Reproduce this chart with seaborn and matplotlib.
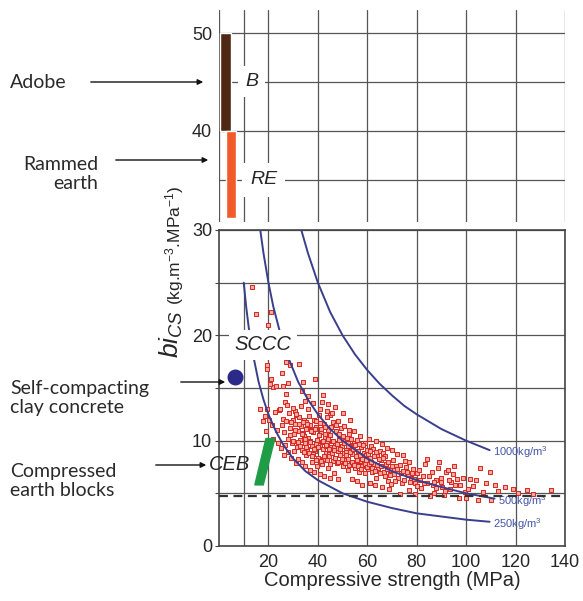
import matplotlib
matplotlib.use("Agg")
import matplotlib.pyplot as plt
import seaborn as sns
import pandas as pd

# measured points: compressive strength (MPa) vs binder intensity bi_CS
strength = [13.2, 15.0, 20.9, 19.7, 19.4, 19.3, 21.0, 21.8, 23.0, 20.6, 19.3, 16.6, 17.9, 19.0, 22.6,
            24.2, 24.7, 26.0, 25.3, 25.9, 27.9, 27.3, 28.7, 32.3, 34.0, 34.7, 27.3, 26.7, 39.0, 41.5,
            30.7, 31.0, 43.5, 44.8, 21.5, 23.5, 22.0, 18.5, 20.2,
            25.5, 26.5, 27.0, 27.8, 28.3, 28.9, 29.5, 29.8, 30.4, 30.9, 31.5, 31.8, 32.2, 32.7, 33.1,
            33.6, 34.0, 34.4, 34.9, 35.2, 25.0, 26.2, 28.0, 29.0, 30.2, 32.0, 33.5, 35.0, 27.5, 30.0,
            33.0, 36.0, 24.0, 26.8, 31.2, 34.6, 36.5, 37.0, 36.2, 37.5, 38.0, 38.5,
            39.0, 39.3, 39.8, 40.2, 40.5, 40.9, 41.3, 41.7, 42.0, 42.4, 42.8, 43.2, 43.6, 44.0, 44.3,
            44.7, 45.1, 45.5, 46.0, 46.3, 46.8, 47.2, 47.6, 48.0, 48.5, 48.9, 49.3, 49.8, 50.2, 50.6,
            51.0, 51.5, 52.0, 52.3, 52.8, 53.2, 53.6, 54.0, 54.5, 55.0, 55.4, 55.9, 56.3, 56.8, 57.2,
            57.6, 58.0, 58.5, 59.0, 59.5, 60.0, 60.4, 36.8, 38.6, 40.8, 42.6, 44.9, 46.5, 48.2, 37.8,
            39.6, 43.9, 45.8, 41.0, 48.0, 50.5, 52.5, 54.8, 57.0, 59.2, 61.5, 38.2, 42.0, 44.0, 47.0,
            36.0, 33.7, 50.0, 53.0,
            34.2, 35.6, 36.9, 38.1, 39.4, 40.6, 41.9, 43.1, 44.5, 45.7, 47.0, 48.3, 49.6, 51.2, 52.7,
            35.3, 37.3, 39.2, 41.1, 43.0, 44.8, 46.7, 48.6, 50.4, 52.2, 54.2, 56.1, 58.3,
            61.0, 61.8, 62.3, 62.8, 63.4, 64.0, 64.5, 65.0, 65.5, 66.2, 66.9, 67.1, 67.6, 68.3, 69.2,
            70.4, 71.0, 71.8, 72.5, 73.1, 73.1, 74.0, 75.2, 75.8, 76.5, 77.8, 78.5, 79.2, 79.5, 80.3,
            63.0, 65.8, 68.8, 70.0, 72.0, 74.5, 76.8, 60.8, 63.5, 66.0, 68.0, 58.0, 56.0, 54.0, 61.2,
            69.5, 77.0,
            81.0, 81.9, 82.5, 83.5, 84.3, 85.2, 86.0, 86.4, 87.7, 88.5, 89.7, 90.4, 91.3, 92.0, 92.5,
            93.4, 94.0, 94.6, 95.4, 96.2, 97.0, 97.4, 98.8, 99.5, 84.0, 87.0, 89.0, 91.0, 95.0,
            100.1, 100.8, 101.4, 102.7, 104.1, 104.6, 106.9, 108.0, 109.5, 110.2, 111.5, 113.0, 115.6,
            118.8, 121.0, 124.5, 127.0, 134.4, 105.5]
bi_cs = [24.6, 22.0, 22.2, 21.0, 17.2, 16.8, 15.9, 15.1, 15.2, 15.4, 13.0, 13.0, 11.9, 10.9, 12.7,
         12.9, 13.0, 12.1, 16.4, 15.2, 15.5, 17.5, 17.2, 17.3, 15.6, 13.8, 14.4, 13.7, 15.9, 13.7,
         12.8, 12.4, 12.8, 12.4, 11.5, 11.0, 10.2, 12.3, 12.0,
         11.5, 10.8, 11.9, 10.2, 12.6, 11.2, 9.8, 12.0, 10.6, 11.6, 9.4, 10.9, 12.2, 10.1, 11.4,
         9.1, 10.7, 12.0, 9.8, 11.1, 9.3, 8.6, 8.9, 8.4, 9.0, 8.3, 8.0, 8.6, 13.4, 13.1,
         13.3, 13.0, 9.8, 9.6, 7.9, 7.6, 12.3, 11.5, 10.3, 9.5, 10.8, 12.0,
         9.0, 11.3, 10.1, 8.4, 12.4, 9.6, 10.8, 7.8, 9.2, 11.6, 10.3, 8.8, 9.9, 11.0, 7.4,
         8.5, 10.5, 9.4, 11.8, 8.1, 9.8, 10.9, 7.9, 9.0, 10.2, 8.6, 11.2, 9.5, 7.6, 8.8,
         10.0, 9.1, 7.2, 8.3, 10.6, 9.4, 7.9, 8.7, 9.8, 7.4, 8.5, 10.1, 9.0, 7.0, 8.1,
         9.4, 7.6, 8.8, 6.9, 8.2, 9.1, 7.3, 7.2, 7.0, 6.8, 6.6, 6.5, 6.9, 6.4, 8.0,
         7.6, 12.2, 12.6, 13.0, 11.9, 11.4, 11.0, 10.9, 10.4, 9.8, 9.5, 13.6, 14.3, 13.5, 13.2,
         14.2, 14.7, 12.6, 12.0,
         10.4, 9.2, 10.0, 8.7, 9.7, 10.5, 8.3, 9.5, 8.9, 10.0, 8.4, 9.3, 8.1, 8.9, 9.6,
         11.8, 11.0, 11.9, 11.1, 10.6, 9.1, 9.4, 10.1, 8.2, 9.8, 7.8, 7.7, 8.5,
         8.4, 7.0, 9.2, 7.8, 6.5, 8.6, 7.4, 9.0, 8.2, 8.8, 7.0, 8.5, 7.8, 6.2, 7.2,
         8.2, 6.8, 7.6, 6.5, 7.7, 4.9, 6.0, 8.1, 7.5, 6.7, 6.5, 7.3, 4.9, 6.0, 6.9,
         5.8, 5.6, 5.4, 9.1, 8.7, 8.6, 5.3, 10.2, 10.0, 9.7, 9.3, 5.8, 6.2, 6.4, 6.0,
         5.9, 8.0,
         7.2, 5.5, 6.6, 7.8, 6.0, 4.7, 7.0, 5.8, 6.3, 7.4, 6.5, 5.6, 5.2, 7.0, 7.2,
         5.4, 6.1, 6.8, 5.8, 6.4, 4.6, 5.8, 6.5, 5.1, 8.3, 5.0, 8.0, 4.8, 7.6,
         4.6, 5.4, 6.4, 5.7, 6.3, 4.4, 5.1, 6.0, 7.0, 4.4, 5.8, 5.2, 5.6,
         5.4, 5.0, 5.3, 4.9, 5.3, 7.4]

# extra points from the dense core of the cloud
strength_core = [28.6, 29.2, 30.1, 30.7, 31.3, 31.9, 32.4, 32.9, 33.4, 33.9, 34.3, 34.8, 35.4,
                 35.8, 36.3, 36.7, 37.2, 37.7, 38.3, 38.8, 39.4, 39.9, 40.3, 40.7, 41.2, 41.6,
                 42.1, 42.5, 42.9, 43.4, 43.8, 44.2, 44.6, 45.0, 45.3, 45.8, 46.2, 46.6, 47.0,
                 47.4, 47.9, 48.3, 48.7, 49.1, 49.6, 50.0, 50.4, 50.8, 51.3, 51.7, 52.1, 52.6,
                 53.0, 53.4, 53.9, 54.3, 54.7, 55.2, 55.7, 56.1,
                 56.6, 57.0, 57.5, 58.0, 58.4, 58.9, 59.3, 59.8, 60.3, 60.7, 61.2, 61.6, 62.1,
                 62.6, 63.1, 63.6, 64.1, 64.6, 65.2, 65.7, 66.4, 67.0, 67.8, 68.5, 69.0, 69.8,
                 70.7, 71.4, 72.2, 73.6, 74.4, 75.0, 76.0, 77.3, 78.0, 79.0, 80.0, 81.5, 82.8,
                 84.8, 86.8, 88.0, 90.0, 93.0]
bi_core = [10.5, 11.8, 10.0, 11.0, 12.5, 9.9, 11.6, 9.5, 10.6, 11.8, 8.9, 10.2, 9.4,
           11.6, 8.8, 9.9, 10.9, 8.5, 9.2, 11.1, 8.2, 9.4, 10.5, 11.7, 8.1, 9.9,
           10.0, 8.5, 11.3, 9.6, 8.2, 10.2, 9.2, 7.8, 11.3, 8.8, 10.0, 9.1, 8.4,
           11.5, 9.7, 8.0, 10.6, 9.2, 8.3, 10.4, 9.8, 7.9, 8.6, 10.3, 9.5, 7.7,
           8.9, 10.2, 8.0, 9.2, 7.7, 9.6, 8.2, 7.6,
           9.7, 8.6, 7.3, 8.3, 9.6, 7.8, 8.6, 7.5, 8.7, 7.8, 9.0, 8.0, 7.4,
           8.5, 7.1, 8.9, 7.7, 8.3, 6.9, 7.6, 8.4, 6.6, 7.3, 8.0, 6.7, 7.6,
           7.2, 6.2, 7.3, 6.9, 7.1, 6.3, 7.0, 6.1, 6.9, 6.4, 5.7, 6.3, 6.0,
           6.6, 6.1, 5.5, 6.1, 6.3]

# iso-binder-content curves (kg/m3)
curve_1000_x = [33.3, 36, 40, 45, 50, 55, 60, 65, 70, 75, 80, 90, 100, 109.5]
curve_1000_y = [30.0, 27.8, 25.0, 22.2, 20.0, 18.2, 16.7, 15.4, 14.3, 13.3, 12.5, 11.1, 10.0, 9.1]
curve_500_x = [16.7, 18, 20, 22, 25, 28, 32, 36, 40, 45, 50, 60, 70, 80, 90, 100, 111.5]
curve_500_y = [30.0, 27.8, 25.0, 22.7, 20.0, 17.9, 15.6, 13.9, 12.5, 11.1, 10.0, 8.3, 7.1, 6.25, 5.6, 5.0, 4.5]
curve_250_x = [10, 11, 12, 13, 14, 16, 18, 20, 23, 26, 30, 35, 40, 50, 60, 70, 80, 90, 100, 109.5]
curve_250_y = [25.0, 22.7, 20.8, 19.2, 17.9, 15.6, 13.9, 12.5, 10.9, 9.6, 8.3, 7.1, 6.25, 5.0, 4.2, 3.6, 3.1, 2.8, 2.5, 2.3]
curve_labels = ["1000kg/m$^3$", "500kg/m$^3$", "250kg/m$^3$"]

# other materials
adobe_range = [40, 50]
rammed_range = [31.1, 40]
sccc_point = (6.5, 16.0)
ceb_shape = [(14.5, 5.8), (17.9, 5.8), (22.6, 10.2), (19.0, 10.2)]
threshold = 4.7

sns.set_style("white")
plt.rcParams["font.family"] = ["Liberation Sans", "DejaVu Sans"]
plt.rcParams["mathtext.fontset"] = "custom"
plt.rcParams["mathtext.rm"] = "Liberation Sans"
plt.rcParams["mathtext.it"] = "Liberation Sans:italic"

fig = plt.figure(figsize=(5.83, 6.01), dpi=100)
W, H = 583, 601
ax = fig.add_axes([219 / W, 55 / H, 346 / W, 316 / H])
ax_top = fig.add_axes([219 / W, 379 / H, 346 / W, 212 / H])

grid_kw = dict(color="#555555", linewidth=0.9)
line_col = "#3a3f8c"

# ---- bottom panel ----
ax.set_xlim(0, 140)
ax.set_ylim(0, 30)
ax.set_xticks([20, 40, 60, 80, 100, 120, 140])
ax.set_yticks([0, 5, 10, 15, 20, 25, 30])
ax.set_yticklabels(["0", "", "10", "", "20", "", "30"])
ax.grid(True, **grid_kw)
ax.vlines(10, 0, 25, **grid_kw)
ax.tick_params(axis="y", length=3, labelsize=13, pad=2, color="#444444", left=True)
ax.tick_params(axis="x", length=0, labelsize=13, pad=6)
for s in ax.spines.values():
    s.set_color("#444444")
    s.set_linewidth(1.2)

x_all = strength + strength_core
y_all = bi_cs + bi_core
sns.scatterplot(x=x_all, y=y_all, ax=ax, marker="s", s=12, color="#f2a7a1",
                edgecolor="#d8261f", linewidth=0.7, zorder=3, legend=False)

curves = [(curve_1000_x, curve_1000_y), (curve_500_x, curve_500_y), (curve_250_x, curve_250_y)]
for (cx, cy), lab in zip(curves, curve_labels):
    df = pd.DataFrame({"x": cx, "y": cy})
    sns.lineplot(data=df, x="x", y="y", ax=ax, color=line_col, linewidth=1.4,
                 sort=False, estimator=None, zorder=4)
    ax.text(cx[-1] + 1.5, cy[-1] - 0.2, lab, fontsize=8, color="#4556a8", va="center",
            ha="left", zorder=5)

ax.axhline(threshold, color="#333333", linewidth=1.6, linestyle=(0, (4, 2.5)), zorder=5)
ax.scatter([sccc_point[0]], [sccc_point[1]], s=110, color="#2b2a88", zorder=6)
ax.fill([p[0] for p in ceb_shape], [p[1] for p in ceb_shape], color="#1f9c46", zorder=6)

ax.text(17.9, 19.1, "SCCC", fontsize=14.5, style="italic", ha="center", va="center",
        bbox=dict(facecolor="white", edgecolor="none", pad=4), zorder=7)
ax.text(4.4, 7.75, "CEB", fontsize=14.5, style="italic", ha="center", va="center", zorder=7)
ax.set_xlabel("Compressive strength (MPa)", fontsize=14.5, labelpad=0)
ax.set_ylabel("")

# ---- top panel ----
ax_top.set_xlim(0, 140)
ax_top.set_ylim(30.7, 52.35)
ax_top.set_xticks([0, 10, 20, 40, 60, 80, 100, 120, 140])
ax_top.set_yticks([35, 40, 45, 50])
ax_top.set_yticklabels(["", "40", "", "50"])
ax_top.grid(True, **grid_kw)
ax_top.tick_params(axis="y", length=0, labelsize=13, pad=5)
ax_top.tick_params(axis="x", length=0, labelbottom=False)
for s in ax_top.spines.values():
    s.set_visible(False)
ax_top.bar([2.55], [adobe_range[1] - adobe_range[0]], bottom=adobe_range[0], width=4.3,
           color="#4e2812", zorder=3)
ax_top.bar([4.7], [rammed_range[1] - rammed_range[0]], bottom=rammed_range[0], width=4.0,
           color="#f15a29", zorder=3)
ax_top.text(13.3, 45, "B", fontsize=14, style="italic", ha="center", va="center",
            bbox=dict(facecolor="white", edgecolor="none", pad=5), zorder=4)
ax_top.text(18.0, 35, "RE", fontsize=14, style="italic", ha="center", va="center",
            bbox=dict(facecolor="white", edgecolor="none", pad=6), zorder=4)

# ---- y label ----
fig.text(171 / W, 1 - 334 / H, r"$bi_{CS}$", fontsize=19, rotation=90, ha="center", va="center")
fig.text(175 / W, 1 - 245 / H, r"(kg.m$^{-3}$.MPa$^{-1}$)", fontsize=12.5, rotation=90,
         ha="center", va="center")

# ---- left annotations ----
note = dict(fontsize=14, family=["Lato", "DejaVu Sans"], color="#2a2a2a")
arrow = dict(arrowstyle="-|>", color="#111111", lw=1.0, mutation_scale=8)


def fy(py):
    return 1 - py / H


fig.text(10 / W, fy(83), "Adobe", va="center", ha="left", **note)
fig.text(98 / W, fy(174), "Rammed\nearth", va="center", ha="right", multialignment="right",
         linespacing=1.2, **note)
fig.text(10 / W, fy(398), "Self-compacting\nclay concrete", va="center", ha="left",
         linespacing=1.2, **note)
fig.text(10 / W, fy(481), "Compressed\nearth blocks", va="center", ha="left",
         linespacing=1.2, **note)
for x0, x1, py in [(88, 206, 82), (113, 211, 160), (178, 228, 382), (153, 209, 465)]:
    fig.add_artist(matplotlib.patches.FancyArrowPatch((x0 / W, fy(py)), (x1 / W, fy(py)),
                                                      transform=fig.transFigure, **arrow))

fig.savefig("out.png", dpi=100)
